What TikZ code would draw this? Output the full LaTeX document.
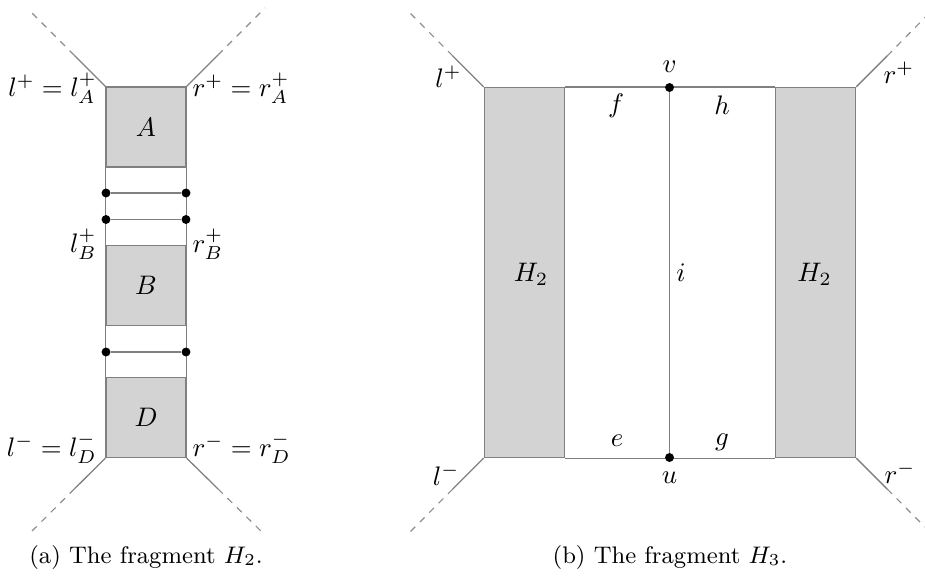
\RequirePackage{fix-cm}
\documentclass[tikz,border=0pt]{standalone}
\usetikzlibrary{calc,backgrounds}
\definecolor{boxfill}{RGB}{211,211,211}
\definecolor{edgecol}{RGB}{128,128,128}
\definecolor{dashcol}{RGB}{140,140,140}
\newcommand\labfont{\fontsize{10.5}{13}\selectfont}
\newcommand\capfont{\fontsize{9.4}{12}\selectfont}
\tikzset{
  edge/.style={draw=edgecol, line width=0.5pt},
  dashedge/.style={draw=dashcol, line width=0.45pt, dash pattern=on 2.6pt off 2.6pt},
  graybox/.style={draw=edgecol, fill=boxfill, line width=0.5pt, minimum width=31.36pt, minimum height=31.36pt, inner sep=0pt, font=\labfont},
  dotnode/.style={circle, fill=black, inner sep=0pt, minimum size=3.5pt},
  lab/.style={inner sep=0pt, font=\labfont},
  captext/.style={inner sep=0pt, font=\capfont}
}
\begin{document}
\begin{tikzpicture}[x=0.392pt,y=-0.392pt]
\useasboundingbox (0,0) rectangle (925,581);

% ---------- (a) the fragment H_2 ----------
\node[graybox] (A) at (146,127) {$A$};
\node[graybox] (B) at (146,285.5) {$B$};
\node[graybox] (D) at (146,417.5) {$D$};
\node[dotnode] (p1) at (106,193) {};
\node[dotnode] (q1) at (186,193) {};
\node[dotnode] (p2) at (106,219.5) {};
\node[dotnode] (q2) at (186,219.5) {};
\node[dotnode] (p3) at (106,352) {};
\node[dotnode] (q3) at (186,352) {};
\coordinate (aTL) at (28,9);
\coordinate (aTR) at (265,8);
\coordinate (aBL) at (28,535);
\coordinate (aBR) at (265,535);
\begin{pgfonlayer}{background}
  \draw[edge] (A.south west) -- (B.north west);
  \draw[edge] (B.south west) -- (D.north west);
  \draw[edge] (A.south east) -- (B.north east);
  \draw[edge] (B.south east) -- (D.north east);
\end{pgfonlayer}
\draw[edge] (p1) -- (q1);
\draw[edge] (p2) -- (q2);
\draw[edge] (p3) -- (q3);
\draw[edge] (A.north west) -- ($(A.north west)!0.4!(aTL)$) coordinate (m1);
\draw[dashedge] (m1) -- (aTL);
\draw[edge] (A.north east) -- ($(A.north east)!0.4!(aTR)$) coordinate (m2);
\draw[dashedge] (m2) -- (aTR);
\draw[edge] (D.south west) -- ($(D.south west)!0.4!(aBL)$) coordinate (m3);
\draw[dashedge] (m3) -- (aBL);
\draw[edge] (D.south east) -- ($(D.south east)!0.4!(aBR)$) coordinate (m4);
\draw[dashedge] (m4) -- (aBR);
\node[lab, anchor=base east] (lplus) at (97,96) {$l^+ = l^+_A$};
\node[lab, anchor=base west] (rplus) at (192,96) {$r^+ = r^+_A$};
\node[lab, anchor=base east] (lB) at (97,252) {$l^+_B$};
\node[lab, anchor=base west] (rB) at (192,252) {$r^+_B$};
\node[lab, anchor=base east] (lminus) at (97,456) {$l^- = l^-_D$};
\node[lab, anchor=base west] (rminus) at (192,456) {$r^- = r^-_D$};
\node[captext, anchor=base] (capa) at (146,563) {(a) The fragment $H_2$.};

% ---------- (b) the fragment H_3 ----------
\node[graybox, minimum height=145.04pt] (HL) at (524.3,272.5) {};
\node[graybox, minimum height=145.04pt] (HR) at (815.6,272.5) {};
\node[dotnode] (v) at (669.5,87.5) {};
\node[dotnode] (u) at (669.5,457.5) {};
\coordinate (bTL) at (407,10);
\coordinate (bTR) at (925,17.5);
\coordinate (bBL) at (407,535);
\coordinate (bBR) at (925,527);
\begin{pgfonlayer}{background}
  \draw[edge] (HL.north east) -- (HR.north west);
  \draw[edge] (HL.south east) -- (HR.south west);
  \draw[edge] (v) -- (u);
\end{pgfonlayer}
\draw[edge] (HL.north west) -- ($(HL.north west)+(-31,-31)$) coordinate (n1);
\draw[dashedge] (n1) -- (bTL);
\draw[edge] (HR.north east) -- ($(HR.north east)+(31,-31)$) coordinate (n2);
\draw[dashedge] (n2) -- (bTR);
\draw[edge] (HL.south west) -- ($(HL.south west)+(-31,31)$) coordinate (n3);
\draw[dashedge] (n3) -- (bBL);
\draw[edge] (HR.south east) -- ($(HR.south east)+(31,31)$) coordinate (n4);
\draw[dashedge] (n4) -- (bBR);
\node[lab] (H2a) at (531,274) {$H_2$};
\node[lab] (H2b) at (814.5,274) {$H_2$};
\node[lab] (ilab) at (681,273) {$i$};
\node[lab] (vlab) at (669.5,67) {$v$};
\node[lab] (ulab) at (669.5,478) {$u$};
\node[lab] (flab) at (616,106) {$f$};
\node[lab] (hlab) at (722,105) {$h$};
\node[lab] (elab) at (617,441) {$e$};
\node[lab] (glab) at (722,442) {$g$};
\node[lab, anchor=base east] (lp) at (462,87) {$l^+$};
\node[lab, anchor=base west] (rp) at (883,83) {$r^+$};
\node[lab, anchor=base east] (lm) at (460,485) {$l^-$};
\node[lab, anchor=base west] (rm) at (884,483) {$r^-$};
\node[captext, anchor=base] (capb) at (670,563) {(b) The fragment $H_3$.};
\end{tikzpicture}
\end{document}
